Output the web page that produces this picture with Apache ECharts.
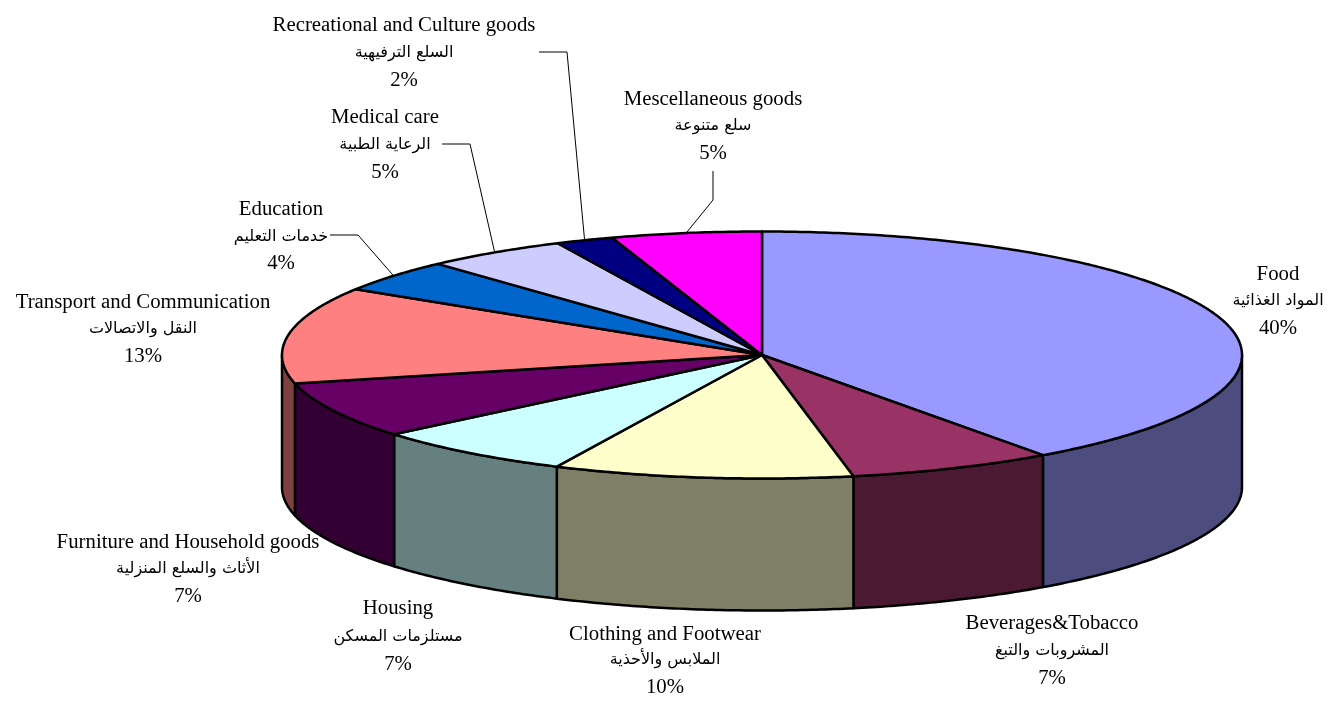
<!DOCTYPE html>
<html>
<head>
<meta charset="UTF-8" />
<title>3D pie</title>
<style>
html, body { margin: 0; padding: 0; background: #fff; }
#chart { width: 1329px; height: 728px; }
</style>
<script src="https://cdn.jsdelivr.net/npm/echarts@6/dist/echarts.min.js"></script>
</head>
<body>
<div id="chart"></div>
<script>
// data
var categories = ['Food', 'Beverages&Tobacco', 'Clothing and Footwear', 'Housing',
    'Furniture and Household goods', 'Transport and Communication', 'Education',
    'Medical care', 'Recreational and Culture goods', 'Mescellaneous goods'];
var arabicNames = ['المواد الغذائية', 'المشروبات والتبغ', 'الملابس والأحذية', 'مستلزمات المسكن',
    'الأثاث والسلع المنزلية', 'النقل والاتصالات', 'خدمات التعليم',
    'الرعاية الطبية', 'السلع الترفيهية', 'سلع متنوعة'];
var shares = [40.05, 6.9, 10.08, 6.87, 7.4, 12.65, 4.25, 4.8, 1.95, 5.05];
var percentLabels = ['40%', '7%', '10%', '7%', '7%', '13%', '4%', '5%', '2%', '5%'];
var topColors = ['#9999FF', '#993366', '#FFFFCC', '#CCFFFF', '#660066',
    '#FF8080', '#0066CC', '#CCCCFF', '#000080', '#FF00FF'];

// layout of the pie
var cx = 762, cy = 355, rx = 480, ry = 123.5, depth = 132;
// label centre x, y of the three lines
var labelPlaces = [
    [1278, 275, 301, 329], [1052, 624, 651, 679], [665, 635, 660, 688], [398, 609, 637, 665],
    [188, 543, 569, 597], [143, 303, 329, 357], [281, 210, 237, 264],
    [385, 118, 145, 173], [404, 26, 53, 81], [713, 100, 126, 154]
];
// leader elbows, only four labels have one
var leaders = {
    6: [[330, 235], [358, 235]],
    7: [[442, 144], [470, 144]],
    8: [[539, 52], [567, 52]],
    9: [[713, 171], [713, 200]]
};

var total = shares.reduce(function (a, b) { return a + b; }, 0);
var starts = [];
shares.reduce(function (sum, v, i) { starts[i] = sum; return sum + v; }, 0);

function toAngle(v) { return v / total * Math.PI * 2; }
// angle is clockwise from 12 o'clock
function pointAt(a, drop) {
    return [cx + rx * Math.sin(a), cy - ry * Math.cos(a) + (drop || 0)];
}
function arcPoints(a0, a1, drop) {
    var n = Math.max(2, Math.ceil((a1 - a0) / 0.01));
    var pts = [];
    for (var k = 0; k <= n; k++) {
        pts.push(pointAt(a0 + (a1 - a0) * k / n, drop));
    }
    return pts;
}
function darker(hex) {
    var n = parseInt(hex.slice(1), 16);
    var r = (n >> 16) >> 1, g = ((n >> 8) & 255) >> 1, b = (n & 255) >> 1;
    return 'rgb(' + r + ',' + g + ',' + b + ')';
}

function renderWall(params, api) {
    var i = params.dataIndex;
    var a0 = Math.max(toAngle(starts[i]), Math.PI / 2);
    var a1 = Math.min(toAngle(starts[i] + api.value(0)), Math.PI * 1.5);
    if (a1 <= a0) return { type: 'group', children: [] };
    var pts = arcPoints(a0, a1, 0).concat(arcPoints(a0, a1, depth).reverse());
    return {
        type: 'polygon',
        shape: { points: pts },
        style: { fill: darker(topColors[i]), stroke: '#000', lineWidth: 2.5, lineJoin: 'round' }
    };
}

function renderTop(params, api) {
    var i = params.dataIndex;
    var a0 = toAngle(starts[i]);
    var a1 = toAngle(starts[i] + api.value(0));
    var pts = [[cx, cy]].concat(arcPoints(a0, a1, 0));
    return {
        type: 'polygon',
        shape: { points: pts },
        style: { fill: topColors[i], stroke: '#000', lineWidth: 2.5, lineJoin: 'round' }
    };
}

function textLine(str, x, y, font) {
    return {
        type: 'text',
        x: x, y: y,
        style: { text: str, fill: '#000', font: font, align: 'center', verticalAlign: 'middle' }
    };
}

function renderLabel(params, api) {
    var i = params.dataIndex;
    var p = labelPlaces[i];
    var serif = '20.8px "Liberation Serif", "Times New Roman", serif';
    var children = [
        textLine(categories[i], p[0], p[1], serif),
        textLine(arabicNames[i], p[0], p[2], '16px "DejaVu Sans", "Liberation Serif", serif'),
        textLine(percentLabels[i], p[0], p[3], serif)
    ];
    if (leaders[i]) {
        var mid = toAngle(starts[i] + api.value(0) / 2);
        children.push({
            type: 'polyline',
            shape: { points: leaders[i].concat([pointAt(mid, 0)]) },
            style: { fill: null, stroke: '#000', lineWidth: 1 }
        });
    }
    return { type: 'group', children: children };
}

var chart = echarts.init(document.getElementById('chart'));
chart.setOption({
    animation: false,
    backgroundColor: '#fff',
    series: [
        { type: 'custom', coordinateSystem: 'none', z: 1, renderItem: renderWall, data: shares, silent: true },
        { type: 'custom', coordinateSystem: 'none', z: 2, renderItem: renderTop, data: shares, silent: true },
        { type: 'custom', coordinateSystem: 'none', z: 3, renderItem: renderLabel, data: shares, silent: true }
    ]
});
</script>
</body>
</html>
